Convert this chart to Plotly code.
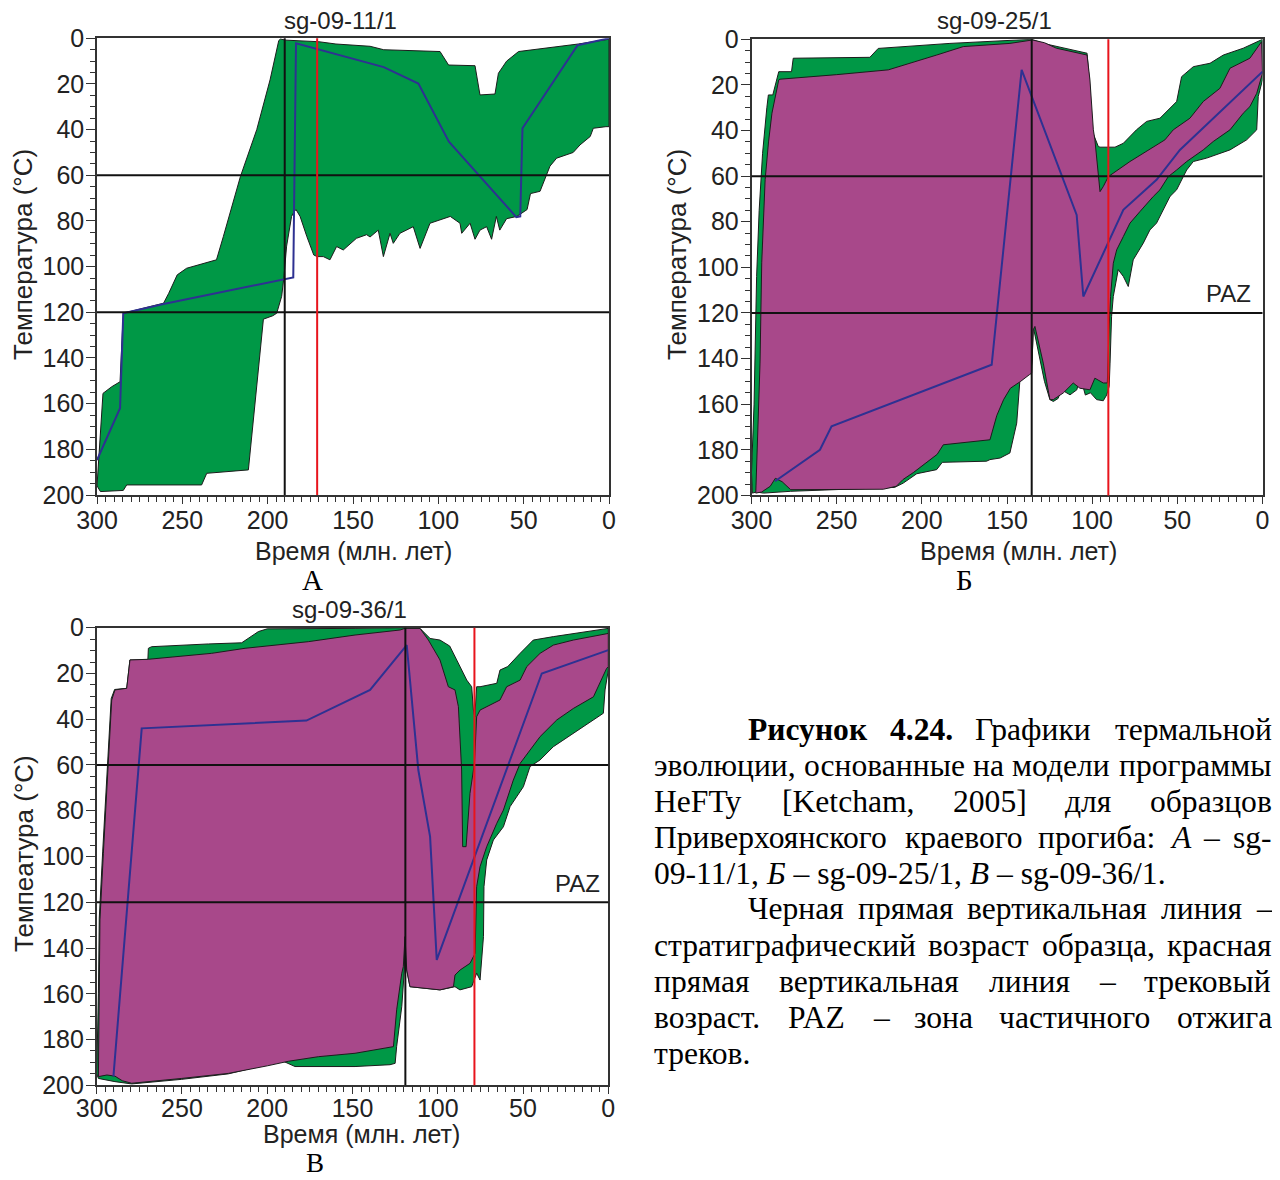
import struct
import subprocess
import plotly.graph_objects as go

# The page body has an 8 px margin; the figure is sized so that the reference pixel grid maps 1:1
OFF = 8
FW, FH = 1264, 1172

# ---------------- Panel A : sg-09-11/1 ----------------
a_green_t = [300, 296.5, 291.4, 286.5, 284.6, 261, 258, 253, 247.5, 230, 226, 216, 206.4, 198.6, 193.5, 192.5,
             189.5, 170, 160, 140, 132, 99, 94, 78.5, 75.6, 66.8, 64.8, 60, 53, 18, 0,
             0, 1.8, 9.2, 11, 17, 21, 30.7, 34.6, 38.5, 40.4, 46, 48, 52, 54, 60, 64, 66, 68.8, 71.7, 75.6,
             78.5, 81.4, 86.3, 87.3, 93, 104.9, 110.7, 114.7, 122.5, 126.4, 128.3, 132.2, 135.2, 140, 142,
             148, 155.7, 159.6, 163.5, 167.4, 171, 173, 177, 181, 183.4,
             184.5, 186, 188.9, 190.4, 191.8, 194.7, 197, 202.5, 211.3, 235.7, 238.7, 282.6, 284.6, 298, 300]
a_green_T = [196, 155.5, 152.6, 150.4, 120.4, 116, 111.7, 103.6, 100.7, 97, 86.9, 60.6, 40, 18.2, 1, 0.3,
             0.8, 1.5, 2.5, 3.5, 5, 5.8, 11.7, 12, 24.8, 24.4, 15.3, 10, 5.8, 2.5, 0.4,
             38.7, 38.7, 39.4, 43, 46.7, 50, 52.5, 56, 63.5, 67, 68, 75, 77, 78, 79, 84, 78, 88, 82.5, 84,
             88, 81, 85.4, 81, 78, 81, 92, 82.5, 85.4, 89.8, 85.4, 95.6, 84, 87, 86,
             87.6, 92.7, 91.2, 97, 95.6, 95.6, 94.9, 86.9, 78, 75,
             76, 78, 91, 104, 113, 120.4, 121.5, 123, 189, 190.5, 195.6, 195.6, 198, 198.5, 196]
a_best_t = [300, 286.5, 284.6, 261, 185, 183.4, 132, 111.7, 93.8, 54.3, 52, 50.7, 18.4, 0]
a_best_T = [184.7, 162, 120.4, 116.4, 104.7, 2.2, 12.6, 19.8, 45.3, 78.3, 78, 39.4, 3, 0]
a_strat_age = 190
a_track_age = 171

# ---------------- Panel Б : sg-09-25/1 ----------------
b_green_t = [299.5, 300, 298.5, 297, 295.5, 293.5, 291, 290.1, 287.5, 284, 276.5, 275.5, 230.5, 225.6, 183.5,
             148, 135.5, 128.7, 111, 103, 101.5, 100.3, 96.4, 95.4, 86.6, 81.7, 74, 68, 60.2, 50.4, 47.5,
             40.6, 30.8, 23, 11.3, 0,
             0, 2.5, 3.4, 9.3, 19.1, 25, 32.8, 40.6, 44.5, 46.5, 50.4, 54.3, 58.2, 62.2, 66.1, 70, 75.9,
             78.8, 81.7, 84.7, 87.6, 88.6, 89.5, 90,
             91.5, 93.5, 97.4, 101, 104, 107, 109, 113, 118, 120, 122.8, 124.8, 128, 132.6, 134.6, 135.2, 136,
             137, 142.4, 144.3, 148.3, 154, 160, 162, 188, 191.3, 203, 210.9, 216, 277, 285, 293, 297, 299.5]
b_green_T = [199, 190, 160, 104, 75, 50, 30, 24.4, 24.4, 14.2, 14.2, 8.3, 7.9, 4, 1.8,
             0.5, 0, 1.8, 4.7, 6.1, 20, 39.7, 47, 47.3, 47.3, 45.6, 39.7, 36, 34.6, 27.3, 16.4,
             12, 10.5, 6.9, 3.9, 0,
             17.8, 25.1, 39.7, 44.1, 48.5, 50, 52.1, 53.6, 57.3, 60.2, 66, 68.9, 74.8, 80.6, 83.6, 89.4, 96.7,
             108.4, 104, 101, 112.8, 121.5, 142, 152.2,
             156, 158.5, 158, 155, 156, 147.8, 153.7, 155.9, 153.7, 157.5, 158.8, 158, 150, 133, 126, 140, 146,
             146.4, 149.3, 168.3, 181.4, 183.6, 184.3, 185, 185.5, 188.7, 190.5, 194.6, 196.5, 198.2, 198.5,
             199, 198.5, 199]
b_purple_t = [297.5, 295.5, 295, 294, 292, 290, 288, 284, 283.3, 250, 219.7, 191.3, 175.7, 148.3, 136, 135,
              128, 121, 103, 101.3, 99.3, 98.4, 95.4, 93.5, 90.5, 77.8, 57.3, 52.4, 42.6, 34.8, 25, 19.1, 7.4, 0.5,
              0, 3.4, 7.4, 11.3, 19.1, 25, 28.9, 34.8, 40.6, 44.5, 50.4, 55.3, 60.2, 64.1, 71.9, 77.8, 81.7,
              85.6, 87.6, 89.2, 90.1, 91.1,
              93.5, 98.4, 101.3, 107.2, 111.1, 117, 122.8, 124.8, 128.7, 133.6, 134.6, 135.5, 136.9,
              142, 148, 152, 156, 160, 187.4, 191, 205, 211, 215, 222.6, 277, 282, 286, 289, 294, 297.5]
b_purple_T = [199, 160, 142, 98, 61.6, 45, 32.4, 17.8, 17.5, 15.5, 13.4, 6.9, 3.2, 1.8, 0.3, 0.3,
              1.5, 3.9, 6.9, 17.8, 39.7, 44, 66.8, 64.6, 60.2, 53.6, 44.1, 39.7, 34.6, 27.3, 21.5, 12.7, 8.3, 1,
              14.9, 23.7, 29.5, 32.4, 39.7, 42.7, 44.8, 48.5, 51.4, 53.6, 57.3, 60.2, 66, 68.9, 75.5, 80.6, 86.5,
              92.3, 98.2, 112.8, 127.4, 150.7,
              150.7, 148.6, 153.7, 153, 150.7, 155.1, 158, 158, 142, 125.9, 127.4, 146.4, 147.1,
              150, 153, 158, 165, 175.6, 177.8, 182, 190, 193, 196, 197.3, 197.5, 194, 192.5, 196, 198.5, 199]
b_best_t = [286.2, 259.8, 253, 159, 141.4, 109.1, 105.2, 81.7, 62.2, 48.5, 0]
b_best_T = [193.8, 180, 169.7, 142.7, 13.4, 77, 112.8, 74.8, 61.6, 48.5, 14.2]
b_strat_age = 135.5
b_track_age = 90.5

# ---------------- Panel В : sg-09-36/1 ----------------
c_green_t = [299, 300, 299, 298.5, 296.5, 293.5, 291.5, 289.5, 282.4, 280.5, 270, 269.7, 267.8, 234.5, 215,
             205.2, 200, 148.5, 119, 110.4, 104.5, 98.7, 93, 88.9, 83, 80.1, 79.1, 78.3, 77.2, 75.2, 65.4,
             63.5, 59, 51.7, 44, 32.2, 0,
             0, 1.9, 2.9, 8.7, 20.5, 32.2, 40, 45.9, 49.8, 57.6, 61.5, 67.4, 71.3, 72.9, 73.2, 74.2, 75.2,
             77.2, 80.1, 87, 89.9, 98.7, 116.3, 118.2, 119.2,
             119.6, 121.1, 124.1, 125, 128, 148.5, 183.7, 191.5, 215, 222.8, 250.2, 279.5, 289.3, 295.1, 299]
c_green_T = [197, 195, 160, 127, 98, 59, 31, 27, 26.5, 14.1, 14, 9, 8.3, 7.1, 6.6,
             1.7, 0.5, 0.3, 0, 0.3, 4.7, 5.4, 8, 14.1, 22.9, 25.8, 36, 39, 25.8, 25.8, 24.3,
             18.5, 17, 11.2, 5.4, 3.9, 0.3,
             18.5, 27.2, 37.4, 40.3, 46.2, 52, 57.8, 60.7, 69.5, 78.2, 87, 92.8, 101.5, 113.2, 135, 146.7, 154,
             151, 156.9, 158.3, 156.9, 158.3, 156.9, 149.6, 135,
             149.6, 165.6, 183, 190.4, 191, 191.8, 191.8, 189.2, 193.6, 195, 197.4, 199.4, 198.4, 197.7, 197]
c_purple_t = [299, 298.1, 296.1, 293.2, 291.2, 289.3, 282.4, 280.5, 269.7, 232.6, 213, 175.9, 148.5, 122.1,
              119.2, 110.4, 105.5, 98.7, 93.8, 89.9, 87.9, 86, 85.4, 83.4, 81.1, 78.5, 77.2, 75.2, 63.5,
              59.6, 51.7, 47.8, 40, 32.2, 20.5, 0,
              0, 1, 8.7, 20.5, 30.2, 40, 45.9, 51.7, 55.7, 61.5, 65.4, 71.3, 75.2, 77.2, 78.1, 79.1, 81.1,
              86.9, 89.9, 90.8, 98.7, 116.3, 118.2, 119.2,
              120.2, 121.1, 124.1, 126, 148.5, 170, 187.6, 200, 222.8, 250.2, 279.5, 285, 289.3, 294, 299]
c_purple_T = [196.2, 127.7, 98.6, 59.3, 31.6, 27.2, 26.5, 14.1, 13.8, 11.2, 9, 6.1, 3.2, 1,
              0.3, 0.3, 5.4, 14.1, 25.8, 27.2, 34.5, 62.2, 95.7, 95.7, 72.4, 59.3, 38.9, 36, 31.6,
              25.8, 22.9, 17, 11.2, 7.6, 5.4, 2.5,
              17, 17.8, 30.2, 35.3, 40.3, 47.6, 53.5, 59.3, 66.6, 79.7, 85.5, 95.7, 104.4, 113.2, 142.3, 143.8,
              146.7, 149.6, 151.8, 156.9, 158.3, 156.9, 149.6, 135,
              148.1, 151, 167, 183.1, 186, 187.5, 189.5, 191.5, 194.8, 197, 199.1, 198, 196, 195.5, 196.2]
c_best_t = [290.2, 273.6, 177, 148.5, 139.7, 118.2, 111.4, 104.5, 100.6, 39, 0]
c_best_T = [196.2, 44, 40.6, 30.2, 27.2, 7.6, 62.2, 91.3, 145.2, 20, 9.8]
c_strat_age = 119
c_track_age = 78.5

paz_T = [60, 120]
x_ticks = [300, 250, 200, 150, 100, 50, 0]
y_ticks = [0, 20, 40, 60, 80, 100, 120, 140, 160, 180, 200]

GREEN = "#009846"
PURPLE = "#a8488a"
BLUE = "#2e3192"
RED = "#e8141c"
OUTLINE = "#1c1c1c"
SANS = "Liberation Sans, Arial, sans-serif"
SERIF = "Liberation Serif, Times New Roman, serif"

fig = go.Figure()


def poly(t, T, color, xa, ya):
    fig.add_trace(go.Scatter(x=t, y=T, mode="lines", fill="toself", fillcolor=color,
                             line=dict(color=OUTLINE, width=1), xaxis=xa, yaxis=ya,
                             hoverinfo="skip", showlegend=False))


def best(t, T, xa, ya):
    fig.add_trace(go.Scatter(x=t, y=T, mode="lines", line=dict(color=BLUE, width=2),
                             xaxis=xa, yaxis=ya, showlegend=False))


poly(a_green_t, a_green_T, GREEN, "x", "y")
best(a_best_t, a_best_T, "x", "y")
poly(b_green_t, b_green_T, GREEN, "x2", "y2")
poly(b_purple_t, b_purple_T, PURPLE, "x2", "y2")
best(b_best_t, b_best_T, "x2", "y2")
poly(c_green_t, c_green_T, GREEN, "x3", "y3")
poly(c_purple_t, c_purple_T, PURPLE, "x3", "y3")
best(c_best_t, c_best_T, "x3", "y3")


def px(x):
    return (x - OFF) / FW


def py(y):
    return 1 - (y - OFF) / FH


def xaxis_def(x0, x1, anchor, standoff=-5):
    return dict(domain=[px(x0), px(x1)], range=[300, 0], anchor=anchor, automargin=False,
                tickvals=x_ticks, ticks="outside", ticklen=7, tickwidth=1, tickcolor="#333",
                ticklabelstandoff=standoff,
                minor=dict(dtick=5, tick0=0, ticks="outside", ticklen=5, tickcolor="#333"),
                showline=True, linecolor="#333", linewidth=1.5, mirror=True,
                showgrid=False, zeroline=False,
                tickfont=dict(family=SANS, size=25, color="#222"))


def yaxis_def(y0, y1, anchor):
    return dict(domain=[py(y1), py(y0)], range=[200, 0], anchor=anchor, automargin=False,
                tickvals=y_ticks, ticks="outside", ticklen=9, tickwidth=1, tickcolor="#333",
                ticklabelstandoff=-3,
                minor=dict(dtick=5, tick0=0, ticks="outside", ticklen=5, tickcolor="#333"),
                showline=True, linecolor="#333", linewidth=1.5, mirror=True,
                showgrid=False, zeroline=False,
                tickfont=dict(family=SANS, size=25, color="#222"))


shapes = []
panels = [("x", "y", a_strat_age, a_track_age),
          ("x2", "y2", b_strat_age, b_track_age),
          ("x3", "y3", c_strat_age, c_track_age)]
for xa, ya, sa, ta in panels:
    for T in paz_T:
        shapes.append(dict(type="line", xref=xa + " domain", yref=ya, x0=0, x1=1, y0=T, y1=T,
                           line=dict(color="#111", width=2)))
    shapes.append(dict(type="line", xref=xa, yref=ya + " domain", x0=sa, x1=sa, y0=0, y1=1,
                       line=dict(color="#111", width=2)))
    shapes.append(dict(type="line", xref=xa, yref=ya + " domain", x0=ta, x1=ta, y0=0, y1=1,
                       line=dict(color=RED, width=2)))

ann = []


def text(x, y, s, size=26, family=SANS, xanchor="center", angle=0, color="#222", yanchor="middle"):
    ann.append(dict(x=px(x), y=py(y), xref="paper", yref="paper", text=s, showarrow=False,
                    xanchor=xanchor, yanchor=yanchor, textangle=angle,
                    font=dict(family=family, size=size, color=color)))


# titles
text(340, 21, "sg-09-11/1", 24)
text(994, 21, "sg-09-25/1", 24)
text(349, 609, "sg-09-36/1", 24)
# axis titles
text(353, 551, "Время (млн. лет)", 25)
text(1018, 551, "Время (млн. лет)", 25)
text(361, 1134, "Время (млн. лет)", 25)
text(23, 255, "Температура (°C)", 26, angle=-90)
text(677, 255, "Температура (°C)", 26, angle=-90)
text(24, 854, "Темпеатура (°C)", 26, angle=-90)
# panel letters
text(312, 580, "А", 29, SERIF, color="#000")
text(964, 580, "Б", 29, SERIF, color="#000")
text(315, 1180, "В", 27, SERIF, color="#000", yanchor="bottom")

# PAZ labels
ann.append(dict(x=5.6, y=111.6, xref="x2", yref="y2", text="PAZ", showarrow=False,
                xanchor="right", yanchor="middle", font=dict(family=SANS, size=24, color="#222")))
ann.append(dict(x=3.7, y=112, xref="x3", yref="y3", text="PAZ", showarrow=False,
                xanchor="right", yanchor="middle", font=dict(family=SANS, size=24, color="#222")))


# ---------------- caption: justified text, word widths from the installed serif font ----------------
def _font_file(pattern):
    try:
        r = subprocess.run(["fc-match", "-f", "%{file}", pattern], capture_output=True, text=True, timeout=10)
        return r.stdout.strip() or None
    except Exception:
        return None


def _load_width_fn(path):
    with open(path, "rb") as f:
        data = f.read()
    ntab = struct.unpack(">H", data[4:6])[0]
    tabs = {}
    for i in range(ntab):
        tag, _cs, off, ln = struct.unpack(">4sIII", data[12 + 16 * i: 28 + 16 * i])
        tabs[tag.decode("latin1")] = off
    upem = struct.unpack(">H", data[tabs["head"] + 18: tabs["head"] + 20])[0]
    nhm = struct.unpack(">H", data[tabs["hhea"] + 34: tabs["hhea"] + 36])[0]
    hoff = tabs["hmtx"]
    adv = [struct.unpack(">H", data[hoff + 4 * i: hoff + 4 * i + 2])[0] for i in range(nhm)]
    coff = tabs["cmap"]
    nsub = struct.unpack(">H", data[coff + 2: coff + 4])[0]
    sub = None
    for i in range(nsub):
        pid, eid, so = struct.unpack(">HHI", data[coff + 4 + 8 * i: coff + 12 + 8 * i])
        if pid == 3 and eid == 1:
            sub = coff + so
    if sub is None or struct.unpack(">H", data[sub: sub + 2])[0] != 4:
        raise ValueError("no format-4 cmap")
    segx2 = struct.unpack(">H", data[sub + 6: sub + 8])[0]
    seg = segx2 // 2
    ends = struct.unpack(">%dH" % seg, data[sub + 14: sub + 14 + segx2])
    so_ = sub + 16 + segx2
    starts = struct.unpack(">%dH" % seg, data[so_: so_ + segx2])
    do_ = so_ + segx2
    deltas = struct.unpack(">%dh" % seg, data[do_: do_ + segx2])
    ro_ = do_ + segx2
    ros = struct.unpack(">%dH" % seg, data[ro_: ro_ + segx2])

    def glyph(c):
        for i in range(seg):
            if starts[i] <= c <= ends[i]:
                if ros[i] == 0:
                    return (c + deltas[i]) & 0xFFFF
                addr = ro_ + 2 * i + ros[i] + 2 * (c - starts[i])
                g = struct.unpack(">H", data[addr: addr + 2])[0]
                return (g + deltas[i]) & 0xFFFF if g else 0
        return 0

    def width(s):
        return sum(adv[min(glyph(ord(ch)), nhm - 1)] for ch in s) / upem

    return width


def _fallback(s):
    return 0.49 * len(s)


width_fn = {}
for key, pat in (("r", "Liberation Serif"), ("b", "Liberation Serif:bold"), ("i", "Liberation Serif:italic")):
    try:
        width_fn[key] = _load_width_fn(_font_file(pat))
    except Exception:
        width_fn[key] = _fallback

cap_left, cap_indent, cap_right = 651.5, 746, 1270
cap_y0, cap_dy = 729, 36
cap_lines = [
    (cap_indent, True, [("Рисунок", "b"), ("4.24.", "b"), ("Графики", "r"), ("термальной", "r")]),
    (cap_left, True, [("эволюции,", "r"), ("основанные", "r"), ("на", "r"), ("модели", "r"), ("программы", "r")]),
    (cap_left, True, [("HeFTy", "r"), ("[Ketcham,", "r"), ("2005]", "r"), ("для", "r"), ("образцов", "r")]),
    (cap_left, True, [("Приверхоянского", "r"), ("краевого", "r"), ("прогиба:", "r"), ("А", "i"), ("–", "r"),
                      ("sg-", "r")]),
    (cap_left, False, [("09-11/1, <i>Б</i> – sg-09-25/1, <i>В</i> – sg-09-36/1.", "r")]),
    (cap_indent, True, [("Черная", "r"), ("прямая", "r"), ("вертикальная", "r"), ("линия", "r"), ("–", "r")]),
    (cap_left, True, [("стратиграфический", "r"), ("возраст", "r"), ("образца,", "r"), ("красная", "r")]),
    (cap_left, True, [("прямая", "r"), ("вертикальная", "r"), ("линия", "r"), ("–", "r"), ("трековый", "r")]),
    (cap_left, True, [("возраст.", "r"), ("PAZ", "r"), ("–", "r"), ("зона", "r"), ("частичного", "r"),
                      ("отжига", "r")]),
    (cap_left, False, [("треков.", "r")]),
]

# calibrate font size so that the densest line (line 2) has ordinary word spacing
_l2 = cap_lines[1][2]
_nat = sum(width_fn[st](w) for w, st in _l2) + 0.25 * (len(_l2) - 1)
cap_size = max(28.0, min(33.0, (cap_right - cap_left - 2) / _nat))
cap_size = round(cap_size, 1)

for k, (x0, justify, words) in enumerate(cap_lines):
    y = cap_y0 + k * cap_dy
    if not justify:
        text(x0, y, words[0][0], cap_size, SERIF, xanchor="left", color="#000")
        continue
    widths = [width_fn[st](w) * cap_size for w, st in words]
    gap = (cap_right - x0 - sum(widths)) / (len(words) - 1)
    x = x0
    for (w, st), wd in zip(words, widths):
        s = "<b>%s</b>" % w if st == "b" else ("<i>%s</i>" % w if st == "i" else w)
        text(x, y, s, cap_size, SERIF, xanchor="left", color="#000")
        x += wd + gap

fig.update_layout(
    width=FW, height=FH, margin=dict(l=0, r=0, t=0, b=0, autoexpand=False),
    paper_bgcolor="white", plot_bgcolor="white", showlegend=False,
    xaxis=xaxis_def(97, 609, "y"), yaxis=yaxis_def(38.3, 495, "x"),
    xaxis2=xaxis_def(751.5, 1262.5, "y2"), yaxis2=yaxis_def(39.3, 495.4, "x2"),
    xaxis3=xaxis_def(96.7, 608.3, "y3", standoff=-7), yaxis3=yaxis_def(627.7, 1085.3, "x3"),
    shapes=shapes, annotations=ann,
)

fig.write_html("out.html")
